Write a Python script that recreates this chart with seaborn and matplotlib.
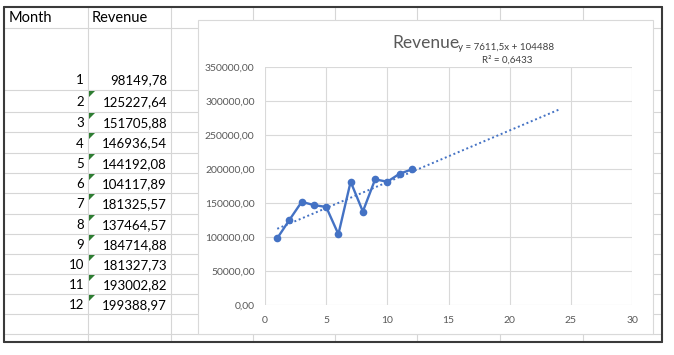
import numpy as np
import matplotlib
matplotlib.use("Agg")
import matplotlib.pyplot as plt
from matplotlib.lines import Line2D
from matplotlib.patches import Rectangle, Polygon
from matplotlib.ticker import FuncFormatter
from matplotlib import font_manager
import seaborn as sns

# ---- data ----
months = [1, 2, 3, 4, 5, 6, 7, 8, 9, 10, 11, 12]
revenue = [98149.78, 125227.64, 151705.88, 146936.54, 144192.08, 104117.89,
           181325.57, 137464.57, 184714.88, 181327.73, 193002.82, 199388.97]
col_headers = ["Month", "Revenue"]
chart_title = "Revenue"
forecast_end = 24
x_ticks = [0, 5, 10, 15, 20, 25, 30]
y_ticks = [0, 50000, 100000, 150000, 200000, 250000, 300000, 350000]

sns.set_theme(style="white")
plt.rcParams['font.family'] = ['Lato', 'DejaVu Sans']

installed = {f.name for f in font_manager.fontManager.ttflist}
num_family = ['Liberation Sans Narrow', 'Lato'] if 'Liberation Sans Narrow' in installed else ['Lato']

W, H = 674, 355
fig = plt.figure(figsize=(W / 100, H / 100), dpi=100)
fig.patch.set_facecolor("white")

def fx(x):
    return x / W

def fy(y):
    return 1 - y / H

def hline(x0, x1, y, color="#D6D6D6", lw=0.8, z=1):
    fig.add_artist(Line2D([fx(x0), fx(x1)], [fy(y), fy(y)], color=color, lw=lw, zorder=z))

def vline(x, y0, y1, color="#D6D6D6", lw=0.8, z=1):
    fig.add_artist(Line2D([fx(x), fx(x)], [fy(y0), fy(y1)], color=color, lw=lw, zorder=z))

# spreadsheet grid
col_lines = [88, 171, 253, 335, 417, 500, 583]
row_lines = [28, 90, 112, 132, 153, 173, 193, 214, 234, 254, 274, 294, 314, 334]
for x in col_lines:
    vline(x, 7, 342)
for y in row_lines:
    hline(4, 662, y)

# chart area (white, covers grid)
cx0, cy0, cx1, cy1 = 198, 20, 653, 334
fig.add_artist(Rectangle((fx(cx0), fy(cy1)), fx(cx1) - fx(cx0), fy(cy0) - fy(cy1),
                         facecolor="white", edgecolor="#D9D9D9", lw=0.8, zorder=2))

# outer dark border
bc = "#3A3A3A"
hline(4, 662, 7, color=bc, lw=1.5, z=5)
hline(4, 662, 342, color=bc, lw=1.5, z=5)
vline(4, 7, 342, color=bc, lw=1.5, z=5)
vline(662, 7, 342, color=bc, lw=1.5, z=5)

# table text
tc = "#000000"
fs = 10.5
nfs = 11 if num_family[0] != 'Lato' else 9.5
fig.text(fx(9), fy(18), col_headers[0], ha="left", va="center", fontsize=fs, color=tc)
fig.text(fx(92), fy(18), col_headers[1], ha="left", va="center", fontsize=fs, color=tc)
row_centers = [80] + [(row_lines[i] + row_lines[i + 1]) / 2 + 1 for i in range(1, 12)]
for i, (m, r) in enumerate(zip(months, revenue)):
    yc = row_centers[i]
    fig.text(fx(84), fy(yc), str(m), ha="right", va="center", fontsize=nfs, color=tc,
             family=num_family)
    fig.text(fx(167), fy(yc), f"{r:.2f}".replace(".", ","), ha="right", va="center",
             fontsize=nfs, color=tc, family=num_family)
    if i > 0:
        top = row_lines[i] + 1
        tri = Polygon([[fx(89), fy(top)], [fx(95), fy(top)], [fx(89), fy(top + 6)]],
                      closed=True, facecolor="#2E7D32", edgecolor="none", zorder=3)
        fig.add_artist(tri)

# chart axes
ax_l, ax_t, ax_r, ax_b = 265, 67, 632, 305
ax = fig.add_axes([fx(ax_l), fy(ax_b), fx(ax_r) - fx(ax_l), fy(ax_t) - fy(ax_b)])
ax.set_zorder(4)
ax.set_facecolor("none")

blue = "#4472C4"
sns.lineplot(x=months, y=revenue, ax=ax, color=blue, lw=1.7, marker="o",
             markersize=5.5, markeredgewidth=0, zorder=3)

slope, intercept = np.polyfit(months, revenue, 1)
pred_x = [months[0], forecast_end]
pred_y = [slope * v + intercept for v in pred_x]
sns.lineplot(x=pred_x, y=pred_y, ax=ax, color=blue, lw=1.4,
             linestyle=(0, (1, 1.4)), zorder=2)

ss_res = np.sum((np.array(revenue) - (slope * np.array(months) + intercept)) ** 2)
ss_tot = np.sum((np.array(revenue) - np.mean(revenue)) ** 2)
r2 = 1 - ss_res / ss_tot

ax.set_xlim(x_ticks[0], x_ticks[-1])
ax.set_ylim(y_ticks[0], y_ticks[-1])
ax.set_xticks(x_ticks)
ax.set_yticks(y_ticks)
ax.yaxis.set_major_formatter(FuncFormatter(lambda v, p: f"{v:.2f}".replace(".", ",")))
ax.grid(True, color="#D9D9D9", lw=0.8)
for s in ax.spines.values():
    s.set_visible(False)
ax.tick_params(axis="both", length=0, labelsize=7.5, colors="#595959")
ax.tick_params(axis="x", pad=8)
ax.tick_params(axis="y", pad=7.5)
ax.set_xlabel("")
ax.set_ylabel("")
if ax.get_legend():
    ax.get_legend().remove()

# title and equation
fig.text(fx(426), fy(43), chart_title, ha="center", va="center", fontsize=12.5,
         color="#595959", zorder=6)
eq = f"y = {slope:.1f}x + {intercept:.0f}".replace(".", ",")
fig.text(fx(506), fy(47), eq, ha="center", va="center", fontsize=7, color="#404040", zorder=6)
fig.text(fx(507), fy(60), f"R² = {r2:.4f}".replace(".", ","), ha="center", va="center",
         fontsize=7, color="#404040", zorder=6)

fig.savefig("out.png", dpi=100, facecolor="white")
